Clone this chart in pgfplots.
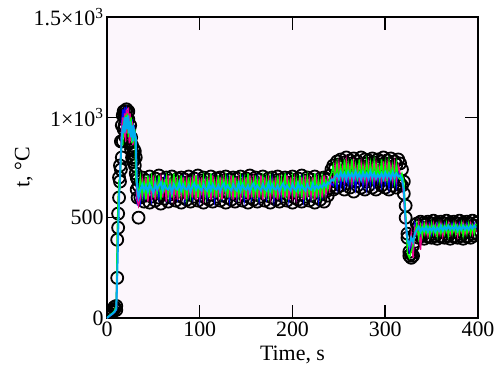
\documentclass[border=0pt]{standalone}
\usepackage{fontspec}
\setmainfont{Liberation Serif}
\newfontfamily\tfont{Liberation Serif}
\usepackage{pgfplots}
\usepackage{pgfplotstable}
\pgfplotsset{compat=1.18}
\definecolor{bgpink}{RGB}{252,246,252}
\pgfplotstableread{
t c1 c2 m g b y
0 5 15 0 0 0 0
2 12 25 8 10 6 8
4 20 35 15 18 12 15
6 30 40 22 25 20 22
8 45 55 30 35 28 30
10 60 40 45 60 40 45
11 390 200 300 420 250 200
12 520 450 560 600 480 420
13 600 700 650 690 620 600
14 680 760 700 640 720 700
15 740 880 850 780 800 820
16 800 960 950 900 980 900
17 880 1010 1000 860 1040 960
18 940 1030 900 980 960 920
19 1000 960 1020 940 1050 1000
20 1030 900 880 1010 990 960
21 1040 1000 1040 950 1030 1000
22 1020 930 920 1020 980 940
23 990 1030 1050 900 1040 1010
24 940 870 870 980 930 920
25 880 960 1020 930 1000 980
26 840 900 880 1000 950 900
27 800 860 980 870 990 960
28 820 780 860 950 900 880
29 790 840 950 880 960 940
30 830 760 900 940 910 920
31 720 800 860 700 880 900
32 640 700 620 660 600 700
33 600 690 580 640 560 620
34 500 660 560 620 640 600
36 680 600 600 700 580 640
38 700 630 690 610 660 665
40 670 580 620 680 600 635
42 685 610 700 590 670 660
44 650 650 580 710 620 630
46 705 575 680 630 690 665
48 680 605 610 700 590 645
50 660 625 710 600 650 625
52 695 585 590 690 610 665
54 675 640 670 620 680 640
56 710 600 640 710 600 660
58 655 570 700 590 660 675
60 690 620 600 680 620 635
62 670 595 690 640 690 665
64 700 635 580 700 600 645
66 645 580 710 610 670 640
68 685 615 620 690 590 660
70 705 600 680 600 650 625
72 665 645 600 720 630 665
74 680 585 700 630 680 645
76 695 610 590 690 600 640
78 660 630 680 600 660 675
80 700 575 610 710 620 635
82 675 600 700 620 690 665
84 690 640 590 680 590 645
86 650 590 690 600 670 640
88 705 620 620 700 610 660
90 680 580 680 610 680 630
92 665 630 600 690 600 655
94 695 605 710 620 660 670
96 670 650 590 710 620 640
98 710 585 690 600 690 660
100 660 610 610 680 590 645
102 685 625 700 630 670 635
104 700 575 600 700 610 665
106 670 600 680 610 680 645
108 690 635 620 690 600 635
110 655 590 690 600 660 670
112 705 615 590 720 620 635
114 680 580 710 620 690 665
116 665 630 600 680 590 645
118 695 605 680 600 670 640
120 675 645 610 710 610 660
122 700 585 700 610 680 630
124 650 610 590 690 600 655
126 685 630 690 630 660 670
128 705 575 620 700 620 640
130 670 600 680 600 690 660
132 690 640 600 690 590 645
134 660 590 710 620 670 635
136 700 620 590 710 610 665
138 675 580 700 600 680 645
140 695 630 610 680 600 635
142 650 605 690 610 660 670
144 705 650 600 700 620 635
146 680 585 680 620 690 665
148 665 610 620 690 590 645
150 695 625 700 600 670 640
152 670 575 590 720 610 660
154 710 600 710 620 680 630
156 660 635 600 680 600 655
158 685 590 690 600 660 670
160 700 615 610 710 620 640
162 670 580 680 610 690 660
164 690 630 600 690 590 645
166 655 605 710 620 670 635
168 705 645 590 700 610 665
170 680 585 700 600 680 645
172 665 610 620 690 600 635
174 695 630 690 610 660 670
176 675 575 600 700 620 635
178 700 600 680 620 690 665
180 650 640 610 680 590 645
182 685 590 700 600 670 640
184 705 620 590 710 610 660
186 670 580 690 620 680 630
188 690 630 620 690 600 655
190 660 605 680 600 660 670
192 700 650 600 720 620 640
194 675 585 710 610 690 660
196 695 610 590 680 590 645
198 650 625 700 630 670 635
200 705 575 610 700 610 665
202 680 600 690 600 680 645
204 665 635 600 690 600 635
206 695 590 680 620 660 670
208 670 615 620 710 620 640
210 710 580 700 600 690 660
212 660 630 590 690 590 645
214 685 605 710 610 670 635
216 700 645 600 700 610 665
218 670 585 690 620 680 645
220 690 610 610 680 600 640
222 655 630 700 610 660 670
224 705 575 590 720 620 640
226 680 600 690 600 690 660
228 665 640 620 690 590 645
230 695 590 680 610 670 660
232 675 620 600 700 610 650
234 700 580 710 620 680 670
236 660 630 620 690 620 655
238 690 610 690 640 690 675
240 710 650 640 700 650 670
242 740 660 700 720 670 690
244 760 640 680 760 660 685
246 745 680 760 680 720 705
248 780 650 690 770 650 715
250 765 690 770 690 740 695
252 790 660 700 760 660 725
254 755 700 750 680 730 700
256 775 640 690 790 660 720
258 800 670 780 700 740 690
260 760 690 700 770 670 725
262 785 650 760 690 730 700
264 770 700 680 790 660 720
266 795 630 770 690 740 695
268 750 680 700 760 650 730
270 780 660 750 680 730 700
272 765 700 690 790 670 720
274 800 650 770 700 740 690
276 755 690 690 760 660 725
278 790 640 760 690 730 700
280 770 680 680 780 650 720
282 785 660 770 700 740 695
284 760 700 700 770 670 730
286 795 650 760 690 730 700
288 775 690 690 780 660 720
290 750 640 770 700 740 695
292 790 680 700 760 680 715
294 765 700 750 690 720 700
296 780 660 690 790 660 720
298 800 690 780 680 740 695
300 760 650 680 770 670 725
302 785 700 770 690 730 700
304 770 640 700 780 650 720
306 795 680 760 700 740 695
308 755 660 690 760 670 725
310 780 700 770 680 730 700
312 765 650 690 770 660 720
314 790 690 760 700 740 705
316 770 670 720 690 700 710
318 740 660 700 720 690 695
320 680 620 600 680 620 640
322 560 500 450 520 480 480
324 420 400 380 320 360 390
326 310 330 350 300 330 360
328 300 320 420 330 380 400
330 310 360 300 360 310 380
332 380 420 450 420 470 420
334 470 420 420 470 440 440
336 460 400 470 400 460 455
338 480 430 340 460 420 430
340 450 410 460 410 470 450
342 475 395 420 470 430 435
344 465 425 470 420 460 455
346 480 405 410 460 440 430
348 455 430 460 410 470 450
350 470 400 430 470 420 435
352 485 420 470 420 460 455
354 460 410 420 460 430 430
356 475 395 460 410 470 450
358 465 425 420 470 440 435
360 480 405 470 420 450 460
362 455 430 410 460 430 435
364 470 400 460 420 470 455
366 485 420 430 470 440 440
368 460 410 470 410 460 460
370 475 395 420 460 430 440
372 465 425 460 420 470 455
374 480 405 430 470 440 440
376 455 430 470 420 460 460
378 470 400 410 460 430 435
380 485 420 460 420 470 455
382 460 410 430 470 440 440
384 475 395 470 410 460 460
386 465 425 420 460 430 440
388 480 405 460 420 470 455
390 455 430 430 470 440 440
392 470 400 470 420 460 460
394 485 420 420 460 430 445
396 460 410 460 420 470 460
398 475 425 430 470 440 450
}\datatable
\begin{document}
\begin{tikzpicture}
\begin{axis}[
  scale only axis, width=371bp, height=301bp,
  xmin=0, xmax=400, ymin=0, ymax=1500,
  xtick={0,100,200,300,400},
  xticklabels={0,100,200,300,400},
  ytick={0,500,1000,1500},
  yticklabels={0,500,1×10\textsuperscript{3},1.5×10\textsuperscript{3}},
  tick align=inside, major tick length=13bp,
  axis line style={line width=1.5bp},
  every tick/.style={line width=1.5bp, black},
  axis background/.style={fill=bgpink},
  /pgf/number format/assume math mode=true,
  tick label style={font=\tfont\fontsize{22}{26}\selectfont},
  label style={font=\tfont\fontsize{22}{26}\selectfont},
  xlabel={Time, s}, ylabel={t, °C},
  ylabel shift=-6bp, xlabel shift=3bp,
  clip=true, clip marker paths=true,
]
\addplot[only marks, mark=o, mark size=6bp, mark options={line width=1.8bp, black}] table[x=t,y=c1] {\datatable};
\addplot[only marks, mark=o, mark size=6bp, mark options={line width=1.8bp, black}] table[x=t,y=c2] {\datatable};
\addplot[blue, line width=1.4bp] table[x=t,y=b] {\datatable};
\addplot[magenta, line width=1.4bp] table[x=t,y=m] {\datatable};
\addplot[green, line width=1.4bp] table[x=t,y=g] {\datatable};
\addplot[cyan, line width=2bp] table[x=t,y=y] {\datatable};
\end{axis}
\pgfresetboundingbox
\path[use as bounding box] (current axis.south west) ++(-107bp,-56bp) rectangle ++(495bp,374bp);
\end{tikzpicture}
\end{document}
